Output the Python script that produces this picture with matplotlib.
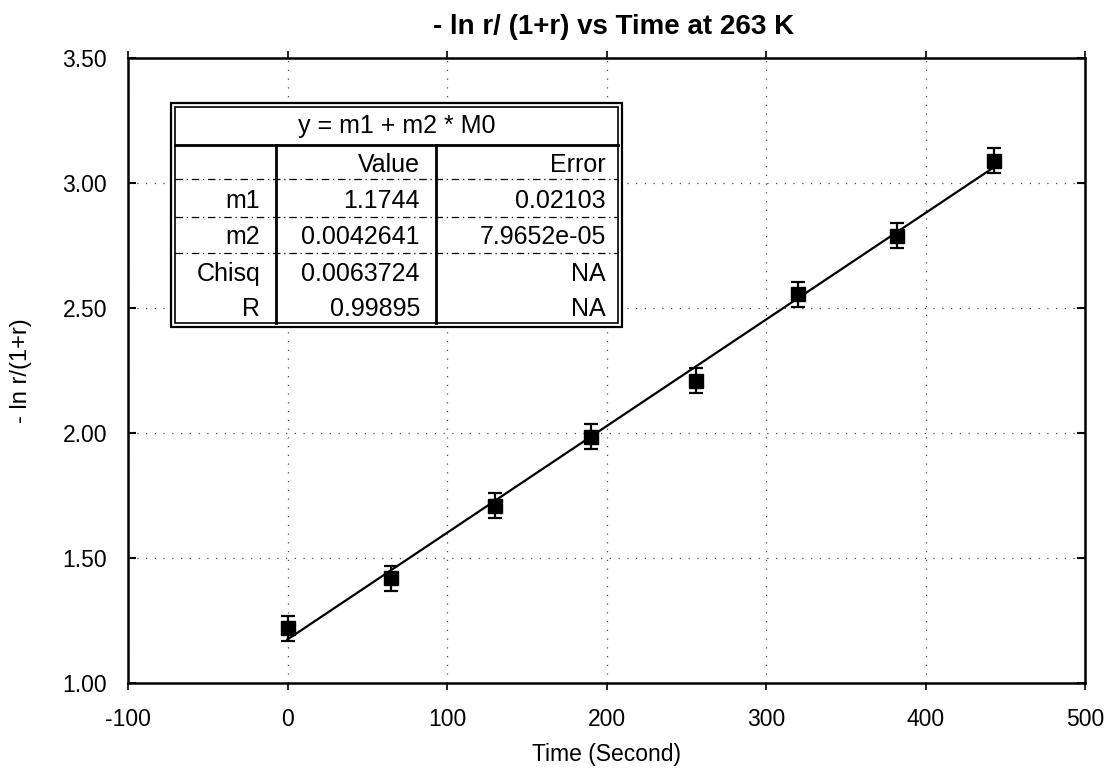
import matplotlib
matplotlib.use("Agg")
import matplotlib.pyplot as plt
from matplotlib.patches import Rectangle
import numpy as np

plt.rcParams['font.family'] = ['Liberation Sans', 'DejaVu Sans']

# measured data
time_s = [0, 65, 130, 190, 256, 320, 382, 443]
neg_ln = [1.22, 1.42, 1.71, 1.985, 2.21, 2.555, 2.79, 3.09]
err = [0.05, 0.05, 0.05, 0.05, 0.05, 0.05, 0.05, 0.05]

# linear fit results  y = m1 + m2 * M0
m1, m2 = 1.1744, 0.0042641
fit_rows = ["m1", "m2", "Chisq", "R"]
fit_values = ["1.1744", "0.0042641", "0.0063724", "0.99895"]
fit_errors = ["0.02103", "7.9652e-05", "NA", "NA"]

x_ticks = [-100, 0, 100, 200, 300, 400, 500]
y_ticks = [1.00, 1.50, 2.00, 2.50, 3.00, 3.50]

W, H = 1118, 778
fig = plt.figure(figsize=(W / 100, H / 100), dpi=100)
ax = fig.add_axes([128 / W, 1 - 683 / H, 957 / W, 625 / H])

ax.set_xlim(-100, 500)
ax.set_ylim(1.0, 3.5)
ax.set_xticks(x_ticks)
ax.set_yticks(y_ticks)
ax.set_xticklabels([str(v) for v in x_ticks])
ax.set_yticklabels([f"{v:.2f}" for v in y_ticks])

ax.grid(True, linestyle=(0, (1, 6)), color='0.3', linewidth=0.9)
ax.set_axisbelow(True)

for s in ax.spines.values():
    s.set_linewidth(1.8)

ax.tick_params(axis='y', direction='in', length=6, width=1.5, left=True, right=True,
               labelsize=16.5, pad=15)
ax.tick_params(axis='x', direction='out', length=5, width=1.2, top=True, bottom=True,
               labelsize=16.5, pad=13)

# fitted line
xf = np.array([time_s[0], time_s[-1]])
ax.plot(xf, m1 + m2 * xf, color='black', linewidth=1.6, zorder=3)

# data with error bars
ax.errorbar(time_s, neg_ln, yerr=err, fmt='s', color='black', markersize=10,
            ecolor='black', elinewidth=1.6, capsize=5, capthick=1.6, zorder=4)

ax.set_xlabel("Time (Second)", fontsize=16.5, labelpad=9)
ax.set_ylabel("- ln r/(1+r)", fontsize=17, labelpad=22)
fig.text(614 / W, 1 - 34 / H, "- ln r/ (1+r) vs Time at 263 K",
         ha='center', va='baseline', fontsize=20, fontweight='bold')

# fit parameter table
T = ax.transAxes
bx0, bx1 = 0.0449, 0.516
by0, by1 = 0.5696, 0.928
hdr = 0.8608
row_lines = [0.8064, 0.7456, 0.688, 0.6288]
col1, col2 = 0.1547, 0.3218

ax.add_patch(Rectangle((bx0, by0), bx1 - bx0, by1 - by0, transform=T,
                       facecolor='white', edgecolor='black', linewidth=1.6, zorder=5))
d = 0.004
ax.add_patch(Rectangle((bx0 + d, by0 + d * 1.5), bx1 - bx0 - 2 * d, by1 - by0 - 3 * d,
                       transform=T, facecolor='none', edgecolor='black',
                       linewidth=1.2, zorder=6))
ax.plot([bx0 + d, bx1 - d], [hdr, hdr], transform=T, color='black', lw=2.0, zorder=6)
for c in (col1, col2):
    ax.plot([c, c], [by0 + d * 1.5, hdr], transform=T, color='black', lw=2.0, zorder=6)
for r in row_lines[:3]:
    ax.plot([bx0 + d, bx1 - d], [r, r], transform=T, color='black', lw=0.9,
            linestyle=(0, (6, 3, 1, 3)), zorder=6)

fs = 18
ax.text((bx0 + bx1) / 2, (hdr + by1) / 2, "y = m1 + m2 * M0", transform=T,
        ha='center', va='center_baseline', fontsize=fs, zorder=7)
row_edges = [hdr] + row_lines + [by0 + d * 1.5]
padx = 16 / 957
rx0, rx1, rx2 = col1 - padx, col2 - padx, bx1 - padx
ymid = (row_edges[0] + row_edges[1]) / 2
ax.text(rx1, ymid, "Value", transform=T, ha='right', va='center_baseline',
        fontsize=fs, zorder=7)
ax.text(rx2, ymid, "Error", transform=T, ha='right', va='center_baseline',
        fontsize=fs, zorder=7)
for i, (name, val, e) in enumerate(zip(fit_rows, fit_values, fit_errors)):
    yc = (row_edges[i + 1] + row_edges[i + 2]) / 2
    for xr, txt in ((rx0, name), (rx1, val), (rx2, e)):
        ax.text(xr, yc, txt, transform=T, ha='right', va='center_baseline',
                fontsize=fs, zorder=7)

fig.savefig("out.png", dpi=100, facecolor='white')
